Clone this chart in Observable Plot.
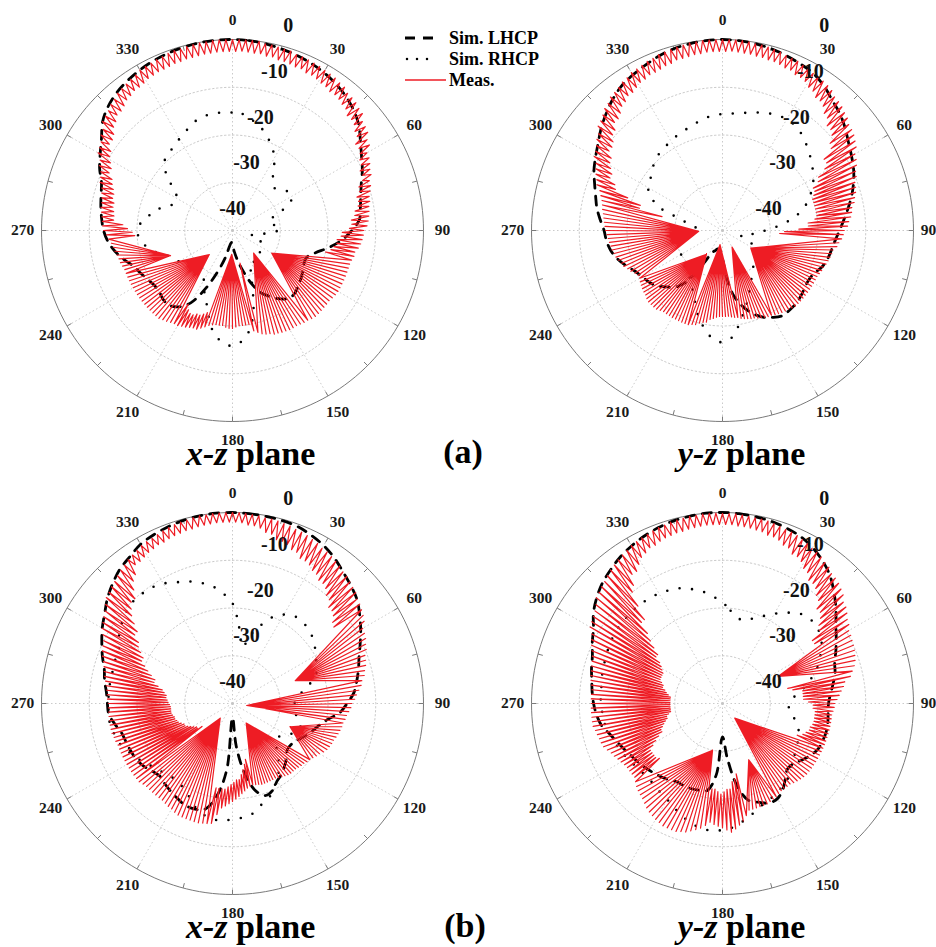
<!DOCTYPE html>
<html><head><meta charset="utf-8">
<script src="https://cdn.jsdelivr.net/npm/d3@7"></script>
<script src="https://cdn.jsdelivr.net/npm/@observablehq/plot@0.6"></script>
<style>
html,body{margin:0;padding:0;background:#fff;}
#wrap{position:relative;width:936px;height:947px;overflow:hidden;background:#fff;}
#wrap svg{position:absolute;}
</style></head><body><div id="wrap"></div>
<script>
// ---------- tick labels ----------
const angleTicks = [0, 30, 60, 90, 120, 150, 180, 210, 240, 270, 300, 330];
const minorTicks = [0, 15, 30, 45, 60, 75, 90, 105, 120, 135, 150, 165, 180, 195, 210, 225, 240, 255, 270, 285, 300, 315, 330, 345];
const radialTicks = [0, -10, -20, -30, -40];
const gridLevels = [-10, -20, -30];
const simAngles = d3.range(0, 360, 5);   // simulated curves sampled every 5 deg
const measAngles = d3.range(0, 360, 1);  // measured curve sampled every 1 deg

// ---------- (a) x-z plane ----------
const lhcp_a_xz = [0,-0.1,-0.3,-0.6,-0.9,-1.3,-1.8,-2.4,-3.2,-4.2,
 -5.5,-7.3,-8.8,-10,-11.3,-12.2,-12.8,-13.3,-15,-17,
 -19.5,-22,-23.5,-23.5,-23,-22.5,-22,-21.5,-21.5,-22.5,
 -24,-25.5,-28,-31,-33.5,-35.5,-37,-37.5,-36.8,-34,
 -30.7,-26.5,-22.5,-20.5,-19.5,-19.5,-20,-20,-19.5,-18.8,
 -18,-16.5,-15,-13.8,-13,-12.5,-12,-11.5,-10.8,-9.3,
 -8,-6.5,-4.5,-3.2,-2.3,-1.7,-1.2,-0.8,-0.5,-0.3,
 -0.1,0];
const rhcp_a_xz = [-15.3,-15.5,-16.5,-17.5,-19,-20.5,-22.5,-25,-27,-27.5,
 -26.8,-25.8,-25.5,-27,-30,-32,-32,-30,-30.5,-33,
 -35,-36,-34,-33,-33,-33,-32.5,-32,-32,-32,
 -32.5,-31,-28,-23,-19,-16.8,-15.8,-16.5,-18,-21,
 -24,-26,-28,-29,-30,-30,-29,-28,-27,-26.5,
 -25,-23,-21.5,-20.5,-20,-20.8,-22.2,-23.3,-25.5,-26.5,
 -26.6,-25,-22,-19.8,-19,-18.6,-17.8,-17,-16,-15.4,
 -15.2,-15.2];
const meas_a_xz = [
 0,-2.5,0,-2.4,0,-2.5,0,-2.6,0,-2.5,
 -0.3,-2.8,-0.3,-2.7,-0.4,-3,-0.5,-3,-0.5,-3.1,
 -0.8,-3.3,-0.8,-3.2,-0.9,-3.6,-1,-3.5,-1.1,-3.7,
 -1.3,-4,-1.4,-4.1,-1.5,-4.5,-1.8,-4.4,-1.9,-4.6,
 -2.5,-5,-2.6,-5.2,-2.8,-6,-3.2,-5.9,-3.4,-6.2,
 -4.5,-7,-4.7,-7.3,-5,-8.5,-6,-8.4,-6.2,-8.8,
 -7.5,-9.5,-7.6,-9.7,-8,-10.5,-8.5,-10.4,-8.7,-10.8,
 -9.5,-12,-9.6,-12.2,-10,-13,-10.5,-12.9,-10.6,-13.2,
 -11,-14,-11.1,-14.2,-11.3,-15,-11.5,-15,-11.8,-15.5,
 -12.5,-17,-12.6,-17.2,-12.8,-18,-13,-18,-13.4,-18.5,
 -14,-19,-14,-20,-14.3,-23,-14.5,-24,-14.5,-25,
 -14.5,-27,-14.5,-27.5,-14.5,-29,-14.5,-29,-14.5,-29.5,
 -14.5,-30,-14.6,-30.3,-14.8,-31,-15,-31,-15,-31.5,
 -15,-32,-15,-32.3,-15,-33,-15,-33,-15.2,-33,
 -15.5,-33,-15.6,-33,-15.8,-33,-16,-33,-16,-33,
 -16,-33,-16.2,-33,-16.3,-33,-16.5,-33,-16.6,-33,
 -17,-33,-17.2,-33,-17.5,-33,-18,-33,-18.5,-33.5,
 -20,-34,-20,-34,-20,-35,-20,-35,-19.8,-35,
 -19.5,-35,-19.5,-35,-19.7,-35,-20,-35,-20,-34.5,
 -20,-33,-19.8,-30,-19.5,-22,-19,-22,-18.5,-21.5,
 -18,-21,-18,-21,-17.8,-20.5,-17.5,-20.5,-17.3,-21,
 -17,-22,-17,-23,-16.8,-26,-16.5,-26,-16.3,-28,
 -16,-30,-16,-31,-16,-33,-16,-33,-16,-32.5,
 -16,-32,-16,-32,-16,-31,-16,-31,-16,-30.5,
 -16,-30,-16,-29.5,-16,-28,-16,-28,-16,-27,
 -16,-26,-15.8,-25.5,-15.6,-24,-15.5,-23.5,-15.3,-22.5,
 -15,-21,-14.8,-20.5,-14.5,-19.5,-14,-19.5,-13.6,-19,
 -13,-18,-12.8,-17,-12.7,-15,-12.5,-15,-12.3,-14.8,
 -12,-14.5,-12,-14.5,-11.8,-14,-11.5,-14,-11.2,-13.6,
 -10.5,-13,-10.2,-12.6,-9.8,-11.5,-9,-11.5,-8.6,-10.8,
 -7.5,-10,-7.2,-9.6,-6.8,-8.5,-6,-8.5,-5.6,-8,
 -4.5,-7,-4.2,-6.6,-3.9,-5.8,-3.3,-5.8,-3,-5.4,
 -2.5,-4.8,-2.3,-4.6,-2.1,-4.2,-1.8,-4.2,-1.6,-4,
 -1.2,-3.6,-1.1,-3.5,-1,-3.3,-0.8,-3.3,-0.7,-3.2,
 -0.5,-3,-0.4,-3,-0.4,-2.8,-0.3,-2.8,-0.2,-2.7,
 -0.1,-2.6,-0.1,-2.6,0,-2.5,0,-2.5,0,-2.5];
// sectors [from, to, apexAngle, apexDb]: inside them every odd-degree dip lands on the apex of the fan
const fans_a_xz = [[104,139,120,-30.5],[140,166,137,-33.5],[168,196,182,-35],[212,247,224,-33],[249,265,248,-26]];

// ---------- (a) y-z plane ----------
const lhcp_a_yz = [0,-0.1,-0.3,-0.6,-1,-1.5,-2,-3,-4.3,-5.3,
 -6.5,-7.8,-8.8,-9.7,-10.8,-12,-13.3,-14.5,-15.5,-16.3,
 -16.8,-17.2,-17.8,-18.8,-19.2,-19,-18.6,-18.3,-18.2,-18.2,
 -19,-20,-21.5,-23.5,-26,-30,-34,-35,-36,-36,
 -35.5,-35,-32,-27,-24.5,-23.3,-22,-21.2,-20.6,-19.8,
 -18.5,-17.2,-16.2,-15.6,-15.2,-14.3,-13.3,-12.5,-11.5,-10.3,
 -9.3,-8.2,-6.8,-5.5,-4.2,-3.1,-2.4,-1.8,-1.1,-0.6,
 -0.3,-0.1];
const rhcp_a_yz = [-15.6,-15.4,-15,-14.4,-13.8,-13.3,-13.1,-13.3,-14,-15,
 -16,-17,-18,-19.3,-20.8,-22.5,-25,-28,-31,-33,
 -35,-36,-35,-33,-32,-31.5,-31,-30.5,-30,-29,
 -28,-26.5,-24.5,-22.5,-20,-17.5,-16.6,-17.2,-19,-21,
 -23.5,-25.5,-27,-28,-28.5,-29,-29,-29.5,-30,-30.5,
 -31,-31,-31,-32,-33,-34.5,-33,-31,-26,-23.5,
 -22,-21.5,-20.8,-19.8,-19.2,-18.8,-18.4,-17.9,-17.5,-17,
 -16.3,-15.9];
const meas_a_yz = [
 0,-2.5,0,-2.4,0,-2.5,0,-2.6,-0.1,-2.6,
 -0.3,-2.8,-0.3,-2.8,-0.4,-3,-0.6,-3,-0.7,-3.2,
 -1,-3.5,-1.1,-3.5,-1.2,-4,-1.5,-4,-1.7,-4.3,
 -2,-5,-2.1,-5.2,-2.3,-6,-2.5,-6,-2.8,-6.5,
 -3.5,-7.5,-3.7,-7.8,-4,-9,-4.5,-9,-4.8,-9.6,
 -5.5,-11,-5.7,-11.5,-6,-14,-6.5,-14,-7,-15,
 -8,-17,-8.3,-17.5,-8.8,-19,-9.5,-19,-9.8,-19.5,
 -10.5,-20,-10.7,-20,-11,-20,-11.5,-20,-11.8,-20,
 -12.5,-20,-12.7,-20.5,-13,-22,-13.5,-22,-13.8,-24,
 -14.5,-27,-14.7,-28,-15,-31,-15.5,-31,-15.8,-32,
 -16.5,-33,-16.6,-33,-16.8,-33,-17,-33,-17.2,-33,
 -17.5,-33,-17.6,-33,-17.8,-32,-18,-32,-18,-32,
 -18,-32,-18,-32,-18,-31.5,-18,-31.5,-18,-31.2,
 -18,-31,-18,-31,-18,-31,-18,-31,-18.2,-31.2,
 -18.5,-31.5,-18.6,-31.6,-18.8,-32,-19,-32,-19.2,-32.5,
 -19.5,-33,-19.6,-33.3,-19.8,-34,-20,-34,-20.2,-34.5,
 -20.5,-35,-20.6,-35.5,-20.8,-36,-21,-36,-21.2,-36.5,
 -21.5,-37,-21.6,-37,-21.8,-37,-22,-37,-22,-37,
 -22,-37,-22,-37,-21.8,-36,-21.5,-36,-21.2,-35.5,
 -20.5,-35,-20.3,-35,-20,-34,-19.5,-34,-19.3,-34,
 -19,-34,-19,-34,-19,-34,-19,-34,-19,-34,
 -19,-34,-19,-34,-19,-34,-19,-34,-18.8,-34,
 -18.5,-34,-18.5,-34,-18.5,-34,-18.5,-34,-18.7,-34,
 -19,-34,-19.1,-34.2,-19.3,-34.5,-19.5,-34.5,-19.7,-34.7,
 -20,-35,-20,-35,-19.6,-35,-19,-35,-18.6,-34.6,
 -18,-34,-17.8,-33.6,-17.4,-33,-17,-33,-16.8,-32.5,
 -16.5,-32,-16.4,-32.5,-16.2,-33,-16,-33,-15.8,-33.5,
 -15.5,-34,-15.4,-34,-15.2,-34,-15,-34,-14.8,-32,
 -14.5,-30,-14.3,-27,-14,-22,-13.5,-22,-13,-19,
 -12,-16,-11.6,-15.5,-11,-14,-10.5,-14,-10,-13.2,
 -9,-12.5,-8.7,-12.2,-8.2,-11,-7.5,-11,-7.1,-10.5,
 -6,-9.5,-5.7,-9.2,-5.2,-8,-4.5,-8,-4.2,-7.4,
 -3.5,-6.5,-3.3,-6.2,-3,-5.5,-2.5,-5.5,-2.3,-5,
 -1.8,-4.5,-1.7,-4.4,-1.5,-4,-1.2,-4,-1.1,-3.8,
 -0.8,-3.5,-0.7,-3.4,-0.6,-3,-0.4,-3,-0.3,-2.9,
 -0.1,-2.7,-0.1,-2.7,0,-2.5,0,-2.5,0,-2.5];
const fans_a_yz = [[95,149,122,-33],[150,169,150,-36],[170,199,190,-37],[200,240,214,-34],[241,282,268,-35]];

// ---------- (b) x-z plane ----------
const lhcp_b_xz = [0,-0.1,-0.2,-0.3,-0.5,-1.1,-1.8,-2.8,-4,-5,
 -6,-7.5,-9,-10.5,-11.8,-12.7,-13.6,-14.5,-16,-17.5,
 -20,-21.5,-22.5,-23.5,-24.5,-25,-25,-24,-23,-22,
 -21.3,-20,-19.5,-21,-25,-31,-37,-26,-20,-17,
 -16.5,-16.5,-17,-17.5,-18,-18.5,-18,-17.2,-16.7,-16.5,
 -16.3,-16,-15,-14,-13.8,-13.5,-12.8,-12.2,-11,-9.8,
 -8.5,-7.3,-5.8,-4.5,-3.3,-2.5,-1.5,-1,-0.6,-0.3,
 -0.1,0];
const rhcp_b_xz = [-19,-24,-28,-25,-22.5,-20,-18.5,-17.6,-17.5,-17.7,
 -18.2,-19,-19.8,-20.7,-21.3,-23,-25,-26.5,-27,-27,
 -26.5,-25.5,-24.9,-25.5,-27,-28,-28,-27,-25,-23,
 -21.5,-20,-18.5,-17.8,-16.5,-16,-15.8,-15.3,-15.5,-16,
 -17,-18.5,-19.5,-20,-20,-19.5,-19,-18,-17,-16,
 -15,-14.5,-14,-14,-14,-14,-14,-14,-13.8,-13.7,
 -12.5,-11.5,-10.8,-10.2,-10.2,-10.4,-11,-12,-12.8,-13.8,
 -15,-16.8];
const meas_b_xz = [
 0,-2,0,-2.1,-0.1,-2.5,-0.2,-2.5,-0.3,-2.8,
 -0.5,-3.5,-0.5,-3.6,-0.6,-4.5,-0.8,-4.5,-0.9,-4.8,
 -1.2,-5.5,-1.3,-5.6,-1.5,-6.5,-1.8,-6.5,-2,-6.8,
 -2.5,-7.5,-2.6,-7.7,-2.9,-8.5,-3.2,-8.5,-3.5,-9,
 -4,-10,-4.2,-10.3,-4.6,-11.5,-5,-11.5,-5.3,-12,
 -6,-13,-6.2,-13.4,-6.6,-15,-7,-15,-7.5,-16.5,
 -8.5,-19,-8.7,-20,-9,-24,-9.5,-24,-9.8,-25.5,
 -10.5,-27,-10.7,-27,-11,-28,-11.5,-28,-11.8,-28.5,
 -12.5,-29,-12.8,-30,-13.4,-33,-14,-33,-14.4,-35,
 -15,-37,-15.2,-37,-15.6,-35,-16,-35,-16.2,-33,
 -16.5,-30,-16.6,-29.5,-16.8,-28,-17,-28,-17.2,-27.5,
 -17.5,-27,-17.6,-27,-17.8,-27,-18,-27,-18.4,-28,
 -19,-29,-19.3,-30,-19.7,-32,-20,-32,-20.2,-33,
 -20.5,-34,-20.6,-34.5,-20.8,-35,-21,-35,-21,-35,
 -21,-35,-21.1,-34.6,-21.3,-34,-21.5,-34,-21.7,-33.6,
 -22,-33,-22,-32.6,-22,-32,-22,-32,-22,-31,
 -22,-30,-22.2,-29,-22.3,-28,-22.5,-28,-22.3,-27,
 -22,-26,-21.5,-25,-21,-24,-20.5,-24,-20,-23.5,
 -19.5,-23,-19,-22.5,-18.5,-22,-18,-22,-16.5,-22,
 -14.5,-22,-14.3,-26,-14.2,-30,-14,-30,-14,-31.5,
 -14,-33,-14,-33.5,-14,-34,-14,-34,-14.2,-34.5,
 -14.5,-35,-14.6,-35.5,-14.8,-36,-15,-36,-15,-36,
 -15,-36,-15,-35.5,-15,-35,-15,-35,-14.8,-34,
 -14.5,-33,-14.5,-32,-14.5,-31,-14.5,-31,-14.5,-30.5,
 -14.5,-30,-14.5,-29.5,-14.5,-29,-14.5,-29,-14.5,-28.5,
 -14.5,-28,-14.3,-27.8,-14.2,-27.5,-14,-27.5,-14,-27.2,
 -14,-27,-14,-27,-14,-27,-14,-27,-14,-26.8,
 -14,-26.5,-13.8,-26.3,-13.7,-26,-13.5,-26,-13.3,-25.5,
 -13,-25,-12.6,-24,-12.3,-23,-12,-23,-11.6,-22,
 -11,-21,-10.6,-20,-10.3,-19,-10,-19,-9.3,-18,
 -8.5,-17,-8,-16.5,-7.5,-15,-7,-15,-6.3,-13.5,
 -5.5,-12,-5.2,-11,-4.8,-10,-4.5,-10,-4,-8.5,
 -3.5,-7,-3.2,-6.2,-2.8,-4.5,-2.5,-4.5,-2.2,-4.2,
 -1.8,-3.8,-1.6,-3.6,-1.5,-3.3,-1.3,-3.3,-1,-3,
 -0.8,-2.8,-0.6,-2.7,-0.5,-2.5,-0.4,-2.5,-0.2,-2.3,
 -0.1,-2.2,-0.1,-2.1,0,-2,0,-2,0,-2];
const fans_b_xz = [[55,79,70,-26],[80,98,98,-37],[100,125,112,-27],[126,165,145,-35],[193,232,220,-36]];

// ---------- (b) y-z plane ----------
const lhcp_b_yz = [0,-0.1,-0.3,-0.5,-0.9,-1.4,-2.3,-3.5,-5,-7,
 -9,-11,-12.5,-13.8,-15,-15.6,-16.5,-17.3,-17.8,-17.8,
 -17.6,-17.5,-17.6,-17.8,-18.5,-19.5,-20.5,-20.7,-19.5,-18,
 -17,-17,-18,-19,-22.5,-28.5,-33,-25,-21.5,-21.2,
 -21,-21,-21,-20.5,-20,-19.5,-19,-18.5,-18,-17.3,
 -16.5,-15.5,-14.2,-13.5,-13,-12.6,-12.2,-11.6,-11,-9.9,
 -8.8,-7,-5.6,-4.4,-3.5,-2.6,-1.9,-1.3,-0.8,-0.4,
 -0.2,0];
const rhcp_b_yz = [-18.8,-20.5,-21.8,-22,-21,-19.8,-18.3,-16.8,-15.3,-14.6,
 -14.5,-15,-16,-17.5,-19,-21,-23,-25,-26,-26,
 -25,-24,-23,-22.5,-22,-21.5,-21,-20,-19,-18.5,
 -18,-17.5,-17,-16,-15,-14,-13.5,-13.3,-13.5,-14.2,
 -15,-16,-16.8,-17.3,-17.7,-18,-17.8,-17.5,-17,-16.5,
 -16,-15.5,-15,-14.8,-14.5,-14.5,-14.3,-14,-13.8,-13.5,
 -13.2,-13,-13,-13,-13,-13.2,-13.4,-13.8,-14.3,-15.2,
 -16.2,-17.5];
const meas_b_yz = [
 -0.2,-2.5,-0.2,-2.5,-0.2,-2.7,-0.3,-2.7,-0.4,-2.8,
 -0.5,-3,-0.5,-3.1,-0.6,-3.5,-0.8,-3.5,-1,-3.8,
 -1.2,-4.5,-1.3,-4.6,-1.5,-5.5,-1.8,-5.5,-2,-6,
 -2.5,-7,-2.7,-7.3,-3,-8.5,-3.5,-8.5,-3.8,-9,
 -4.5,-10,-4.7,-10.5,-5,-12,-5.5,-12,-6,-12.8,
 -7,-14,-7.2,-14.6,-7.8,-17,-8.5,-17,-8.8,-19,
 -9.5,-22,-9.6,-23,-9.8,-26,-10,-26,-10.2,-27,
 -10.5,-28,-10.8,-27.5,-11.3,-26,-12,-26,-12.6,-25,
 -14,-23,-14.4,-23,-15,-23,-15.5,-23,-16,-22,
 -16.5,-21,-16.6,-21,-16.8,-20.5,-17,-20.5,-17,-20.5,
 -17,-20.5,-17,-20.6,-17,-21,-17,-21,-17,-21.5,
 -17,-22,-17,-23,-17,-26,-17,-26,-17,-28,
 -17,-30,-17,-31,-17,-33,-17,-33,-17,-34,
 -17,-35,-17.1,-35.3,-17.3,-36,-17.5,-36,-17.7,-36,
 -18,-36,-18,-35.5,-18,-34,-18,-34,-17.8,-32.5,
 -17.5,-31,-17.3,-30.5,-17.2,-29,-17,-29,-17,-28,
 -17,-27,-17,-26.8,-17,-26,-17,-26,-16,-25,
 -15,-24,-14.3,-23.5,-13.6,-22,-13,-22,-13.5,-21.5,
 -14,-21,-14.3,-21.5,-14.6,-22,-15,-22,-14.2,-26,
 -13.5,-30,-13,-30.5,-12.5,-31,-12,-31,-11.8,-31,
 -11.5,-31,-11.5,-30.6,-11.5,-30,-11.5,-30,-11.8,-29.5,
 -12,-29,-12.3,-28.4,-12.6,-27,-13,-27,-13.5,-26,
 -14,-25,-14.3,-24.4,-14.6,-23,-15,-23,-15.5,-22.5,
 -16,-22,-16,-22,-16,-22,-16,-22,-15.8,-23,
 -15.5,-24,-15.2,-25,-14.8,-26,-14.5,-26,-14,-26.5,
 -13.5,-27,-13.3,-27.5,-13.2,-28,-13,-28,-12.8,-28.5,
 -12.5,-29,-12.5,-29,-12.5,-29,-12.5,-29,-12.5,-29,
 -12.5,-29,-12.5,-29,-12.5,-29,-12.5,-29,-12.3,-28.5,
 -12,-28,-11.8,-27.6,-11.7,-27,-11.5,-27,-11.3,-26.5,
 -11,-26,-10.5,-26,-10,-26,-9.5,-26,-9,-25.5,
 -8,-25,-7.7,-24.3,-7.4,-23,-7,-23,-6.4,-21.5,
 -5.5,-20,-5.2,-18.5,-4.8,-16,-4.5,-16,-4,-13,
 -3.5,-10,-3.2,-9,-2.8,-7,-2.5,-7,-2.2,-6,
 -1.8,-5,-1.6,-4.6,-1.4,-4,-1.2,-4,-1,-3.6,
 -0.8,-3.3,-0.7,-3.2,-0.5,-3,-0.4,-3,-0.3,-2.8,
 -0.2,-2.7,-0.2,-2.6,-0.1,-2.5,-0.1,-2.5,-0.1,-2.5];
const fans_b_yz = [[58,76,64,-27],[115,150,140,-36],[151,168,155,-27],[188,228,192,-30]];

// ---------- legend / labels ----------
const seriesNames = ["Sim. LHCP", "Sim. RHCP", "Meas."];
const groupLabels = ["(a)", "(b)"];

// ---------- layout & style ----------
const R = 191;               // outer ring radius (px)
const RMIN = -40, RMAX = 0;  // radial dB range
const RED = "#ee1c24";
const SERIF = "'Liberation Serif','Times New Roman',serif";
const panels = [
  {left: 0,   top: 0,   cx: 232, cy: 230, plane: "x-z", meas: meas_a_xz, fans: fans_a_xz, lhcp: lhcp_a_xz, rhcp: rhcp_a_xz, shift: 0,  edge: 0},
  {left: 468, top: 0,   cx: 254, cy: 230, plane: "y-z", meas: meas_a_yz, fans: fans_a_yz, lhcp: lhcp_a_yz, rhcp: rhcp_a_yz, shift: 46, edge: -4},
  {left: 0,   top: 474, cx: 232, cy: 229, plane: "x-z", meas: meas_b_xz, fans: fans_b_xz, lhcp: lhcp_b_xz, rhcp: rhcp_b_xz, shift: 0,  edge: 0},
  {left: 468, top: 474, cx: 254, cy: 229, plane: "y-z", meas: meas_b_yz, fans: fans_b_yz, lhcp: lhcp_b_yz, rhcp: rhcp_b_yz, shift: 46, edge: -4}
];

const rOf = dB => Math.max(0, (dB - RMIN) / (RMAX - RMIN));
const toRad = a => a * Math.PI / 180;
const polar = (a, dB, extra = 0) => ({x: (rOf(dB) + extra) * Math.sin(toRad(a)), y: (rOf(dB) + extra) * Math.cos(toRad(a))});
const series = (angles, vals) => angles.map((a, i) => ({a, ...polar(a, vals[i])}));
const measSeries = (vals, fans) => measAngles.map((a, i) => {
  const f = (a % 2 === 1) && fans.find(([s, e]) => a >= s && a <= e);
  return f ? {a, ...polar(f[2], f[3])} : {a, ...polar(a, vals[i])};
});
const ringAngles = d3.range(0, 361, 2);

const wrap = document.getElementById("wrap");

for (const p of panels) {
  const rings = gridLevels.flatMap(l => ringAngles.map(a => ({level: l, ...polar(a, l)})));
  const outer = ringAngles.map(a => polar(a, RMAX));
  const spokes = angleTicks.map(a => polar(a, RMAX));
  const ticks = minorTicks.map(a => ({o: polar(a, RMAX), i: polar(a, RMAX, -5 / R)}));
  const labelPts = angleTicks.map(a => ({a, ...polar(a, RMAX, 19 / R)}));
  const radPts = radialTicks.map(v => ({v, ...polar(17, v)}));

  const svg = Plot.plot({
    width: 468, height: 474, margin: 0,
    x: {domain: [-1, 1], range: [p.cx - R, p.cx + R], axis: null},
    y: {domain: [-1, 1], range: [p.cy + R, p.cy - R], axis: null},
    style: {background: "transparent", overflow: "visible"},
    marks: [
      Plot.line(rings, {x: "x", y: "y", z: "level", stroke: "#c4c4c4", strokeWidth: 0.9, strokeDasharray: "1.5,2.5"}),
      Plot.link(spokes, {x1: () => 0, y1: () => 0, x2: "x", y2: "y", stroke: "#c4c4c4", strokeWidth: 0.9, strokeDasharray: "1.5,2.5"}),
      Plot.line(outer, {x: "x", y: "y", stroke: "#7a7a7a", strokeWidth: 1}),
      Plot.link(ticks, {x1: d => d.o.x, y1: d => d.o.y, x2: d => d.i.x, y2: d => d.i.y, stroke: "#7a7a7a", strokeWidth: 1}),
      Plot.text(labelPts.filter(d => d.a !== 90), {x: "x", y: "y", text: d => String(d.a), fontSize: 15.5, fontWeight: "bold", fontFamily: SERIF, fill: "#1a1a1a", lineAnchor: "middle", textAnchor: "middle"}),
      Plot.text(labelPts.filter(d => d.a === 90), {x: "x", y: "y", dx: p.edge, text: d => String(d.a), fontSize: 15.5, fontWeight: "bold", fontFamily: SERIF, fill: "#1a1a1a", lineAnchor: "middle", textAnchor: "middle"}),
      Plot.line(series(simAngles, p.lhcp), {x: "x", y: "y", stroke: "#000", strokeWidth: 2.8, strokeDasharray: "9,8", curve: "catmull-rom-closed"}),
      Plot.line(series(simAngles, p.rhcp), {x: "x", y: "y", stroke: "#000", strokeWidth: 2.6, strokeDasharray: "0,12.5", strokeLinecap: "round", curve: "catmull-rom-closed"}),
      Plot.line(measSeries(p.meas, p.fans), {x: "x", y: "y", stroke: RED, strokeWidth: 1.2, curve: "linear-closed"}),
      Plot.text(radPts, {x: "x", y: "y", text: d => String(d.v), dx: p.shift, dy: -22, fontSize: 20, fontWeight: "bold", fontFamily: SERIF, fill: "#111", lineAnchor: "middle", textAnchor: "middle"}),
      Plot.text([p.plane], {x: () => 0, y: () => -1, dx: -5, dy: 234 - R, text: d => d, textAnchor: "end", lineAnchor: "bottom", fontSize: 34, fontWeight: "bold", fontStyle: "italic", fontFamily: SERIF, fill: "#000"}),
      Plot.text(["\u00a0plane"], {x: () => 0, y: () => -1, dx: -5, dy: 234 - R, text: d => d, textAnchor: "start", lineAnchor: "bottom", fontSize: 34, fontWeight: "bold", fontFamily: SERIF, fill: "#000"})
    ]
  });
  svg.style.left = p.left + "px";
  svg.style.top = p.top + "px";
  wrap.appendChild(svg);
}

// overlay: legend and (a)/(b)
const ov = d3.select(wrap).append("svg").attr("width", 936).attr("height", 947)
  .style("left", "0px").style("top", "0px").style("pointer-events", "none");
const lg = ov.append("g").attr("font-family", SERIF).attr("font-weight", "bold").attr("font-size", 18).attr("fill", "#000");
const legendRows = [
  {y: 38, x1: 405, x2: 433, stroke: "#000", w: 2.8, dash: "10,8", cap: "butt"},
  {y: 59, x1: 407, x2: 437, stroke: "#000", w: 2.5, dash: "0,10", cap: "round"},
  {y: 80, x1: 405, x2: 446, stroke: RED, w: 1.6, dash: null, cap: "butt"}
];
legendRows.forEach((r, i) => {
  const ln = lg.append("line").attr("x1", r.x1).attr("x2", r.x2).attr("y1", r.y).attr("y2", r.y)
    .attr("stroke", r.stroke).attr("stroke-width", r.w).attr("stroke-linecap", r.cap);
  if (r.dash) ln.attr("stroke-dasharray", r.dash);
  lg.append("text").attr("x", 449).attr("y", r.y + 6).text(seriesNames[i]);
});
const gl = ov.append("g").attr("font-family", SERIF).attr("font-weight", "bold").attr("font-size", 34).attr("text-anchor", "middle");
gl.append("text").attr("x", 463).attr("y", 463).text(groupLabels[0]);
gl.append("text").attr("x", 465).attr("y", 937).text(groupLabels[1]);
</script></body></html>
